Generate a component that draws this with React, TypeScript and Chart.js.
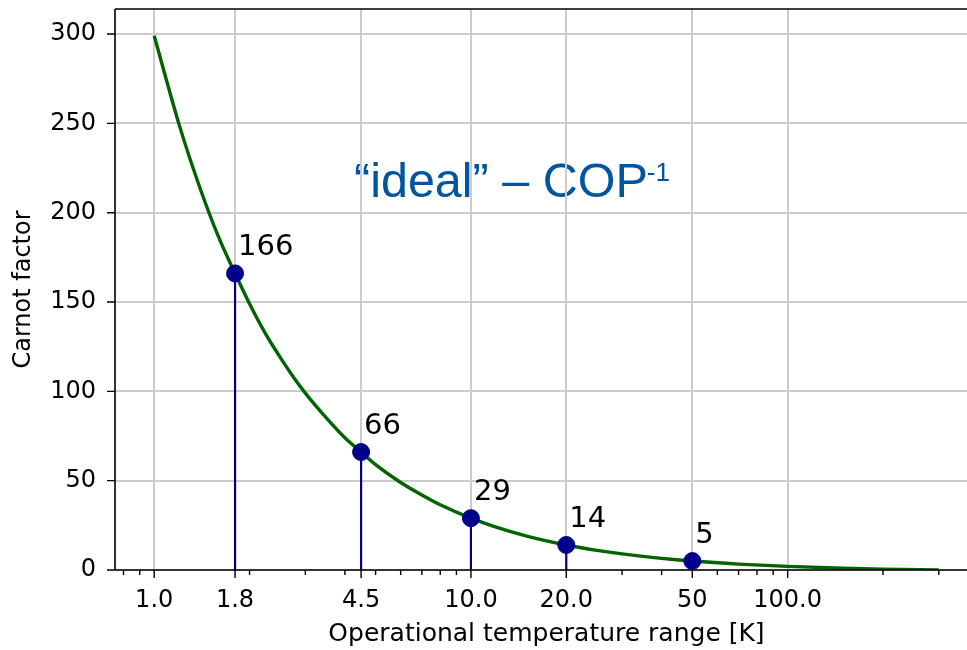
import { useEffect, useRef } from "react";
import { Chart, registerables } from "chart.js";

Chart.register(...registerables);

// Carnot factor curve, sampled along the operational temperature range
const curveT = [1, 1.2, 1.4, 1.6, 1.8, 2, 2.25, 2.5, 2.75, 3, 3.5, 4, 4.5, 5, 6, 7, 8, 10, 12, 15, 20, 25, 30, 40, 50, 70, 100, 150, 200, 300];
const curveCarnot = [299, 249, 213, 186, 166, 149, 132, 119, 108, 99, 85, 74, 66, 59, 49, 42, 36.5, 29, 24, 19, 14, 11, 9, 6.5, 5, 3.3, 2, 1, 0.5, 0];

// Highlighted operating points
const markerT = [1.8, 4.5, 10, 20, 50];
const markerCarnot = [166, 66, 29, 14, 5];

// Axis ticks
const xMajorTicks = [1, 1.8, 4.5, 10, 20, 50, 100];
const xMajorLabels = ["1.0", "1.8", "4.5", "10.0", "20.0", "50", "100.0"];
const xMinorTicks = [0.8, 0.9, 2, 3, 4, 5, 6, 7, 8, 9, 30, 40, 60, 70, 80, 90, 200, 300];
const yTicks = [0, 50, 100, 150, 200, 250, 300];

const FONT = "DejaVu Sans";
const GRID = "#cccccc";
const GREEN = "#006400";
const NAVY = "#00008b";
const TITLE_BLUE = "#0055a0";

const decor = {
  id: "decor",
  beforeDraw(chart: any) {
    const { ctx } = chart;
    ctx.save();
    ctx.fillStyle = TITLE_BLUE;
    ctx.textAlign = "left";
    ctx.textBaseline = "alphabetic";
    ctx.font = `48.5px "Liberation Sans", Arial, sans-serif`;
    const main = "\u201cideal\u201d \u2013 COP";
    const x0 = 354;
    ctx.fillText(main, x0, 197);
    const w = ctx.measureText(main).width;
    ctx.font = `26px "Liberation Sans", Arial, sans-serif`;
    ctx.fillText("-1", x0 + w - 1, 181);
    ctx.restore();
  },
  afterDatasetsDraw(chart: any) {
    const { ctx, chartArea, scales } = chart;
    const { left, top, right, bottom } = chartArea;
    const x = scales.x;
    const y = scales.y;
    ctx.save();

    // value labels beside each marker
    const meta = chart.getDatasetMeta(0);
    ctx.font = `29px "${FONT}"`;
    ctx.fillStyle = "#000";
    ctx.textAlign = "left";
    ctx.textBaseline = "alphabetic";
    meta.data.forEach((pt: any, i: number) => {
      ctx.fillText(String(markerCarnot[i]), pt.x + 3, pt.y - 18);
    });

    // spines
    ctx.strokeStyle = "#000";
    ctx.lineWidth = 1.6;
    ctx.beginPath();
    ctx.moveTo(left, top);
    ctx.lineTo(right, top);
    ctx.moveTo(left, top);
    ctx.lineTo(left, bottom);
    ctx.lineTo(right, bottom);
    ctx.stroke();

    // tick marks
    ctx.lineWidth = 1.4;
    ctx.beginPath();
    xMajorTicks.forEach((v) => {
      const px = x.getPixelForValue(v);
      ctx.moveTo(px, bottom);
      ctx.lineTo(px, bottom + 8);
    });
    xMinorTicks.forEach((v) => {
      const px = x.getPixelForValue(v);
      ctx.moveTo(px, bottom);
      ctx.lineTo(px, bottom + 5);
    });
    yTicks.forEach((v) => {
      const py = y.getPixelForValue(v);
      ctx.moveTo(left - 8, py);
      ctx.lineTo(left, py);
    });
    ctx.stroke();
    ctx.restore();
  },
};

export default function App() {
  const canvasRef = useRef<HTMLCanvasElement | null>(null);

  useEffect(() => {
    const canvas = canvasRef.current;
    if (!canvas) return;

    const stems = markerT.map((t, i) => ({
      type: "line" as const,
      data: [
        { x: t, y: 0 },
        { x: t, y: markerCarnot[i] },
      ],
      borderColor: NAVY,
      borderWidth: 2.2,
      pointRadius: 0,
      order: 3,
    }));

    const chart = new Chart(canvas, {
      type: "line",
      data: {
        datasets: [
          {
            type: "scatter",
            data: markerT.map((t, i) => ({ x: t, y: markerCarnot[i] })),
            backgroundColor: NAVY,
            borderColor: NAVY,
            borderWidth: 1,
            pointRadius: 8.5,
            clip: false,
            order: 0,
          } as any,
          {
            data: curveT.map((t, i) => ({ x: t, y: curveCarnot[i] })),
            borderColor: GREEN,
            borderWidth: 3.4,
            pointRadius: 0,
            cubicInterpolationMode: "monotone",
            fill: false,
            order: 1,
          },
          ...stems,
        ],
      },
      options: {
        responsive: false,
        animation: false,
        devicePixelRatio: 1,
        layout: { autoPadding: false, padding: { top: 9, left: 0, right: 0, bottom: 0 } },
        plugins: {
          legend: { display: false },
          tooltip: { enabled: false },
        },
        scales: {
          x: {
            type: "logarithmic",
            position: "bottom",
            min: 0.752,
            max: 399,
            afterBuildTicks: (s: any) => {
              s.ticks = [...xMinorTicks, ...xMajorTicks]
                .sort((a, b) => a - b)
                .map((v) => ({ value: v }));
            },
            afterFit: (s: any) => {
              s.height = 80;
              s.paddingLeft = 0;
              s.paddingRight = 0;
            },
            ticks: {
              autoSkip: false,
              maxRotation: 0,
              minRotation: 0,
              padding: 16,
              color: "#000",
              font: { family: FONT, size: 24 },
              callback: (v: any) => {
                const i = xMajorTicks.indexOf(Number(v));
                return i >= 0 ? xMajorLabels[i] : "";
              },
            },
            grid: {
              drawTicks: false,
              lineWidth: 2,
              color: (c: any) =>
                c.tick && xMajorTicks.includes(c.tick.value) ? GRID : "rgba(0,0,0,0)",
            },
            border: { display: false },
            title: {
              display: true,
              text: "Operational temperature range [K]",
              color: "#000",
              font: { family: FONT, size: 25 },
              padding: { top: 0, bottom: 1 },
            },
          },
          y: {
            type: "linear",
            min: 0,
            max: 314,
            afterBuildTicks: (s: any) => {
              s.ticks = yTicks.map((v) => ({ value: v }));
            },
            afterFit: (s: any) => {
              s.width = 115;
              s.paddingTop = 0;
              s.paddingBottom = 0;
            },
            ticks: {
              padding: 19,
              color: "#000",
              font: { family: FONT, size: 24 },
            },
            grid: {
              drawTicks: false,
              lineWidth: 2,
              color: GRID,
            },
            border: { display: false },
            title: {
              display: true,
              text: "Carnot factor",
              color: "#000",
              font: { family: FONT, size: 24 },
              padding: { top: 9, bottom: 0 },
            },
          },
        },
      },
      plugins: [decor],
    } as any);

    return () => chart.destroy();
  }, []);

  return (
    <div
      style={{
        position: "absolute",
        left: 0,
        top: 0,
        width: 967,
        height: 650,
        overflow: "hidden",
        background: "#fff",
      }}
    >
      <canvas ref={canvasRef} width={978} height={650} style={{ display: "block" }} />
    </div>
  );
}
